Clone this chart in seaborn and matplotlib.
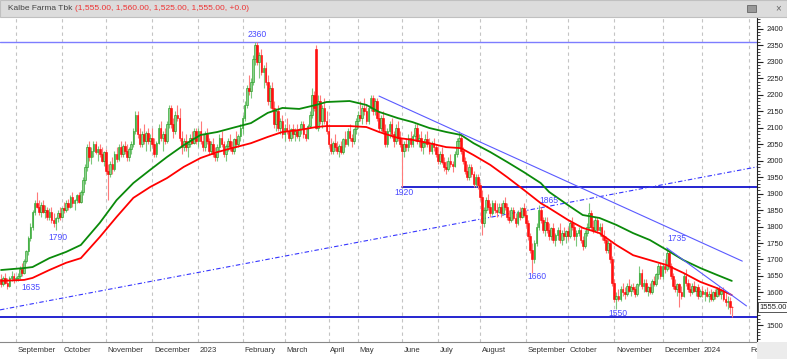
import numpy as np
import pandas as pd
import matplotlib
matplotlib.use("Agg")
import matplotlib.pyplot as plt
import matplotlib.transforms as mtransforms
from matplotlib.patches import Rectangle
from matplotlib.ticker import MultipleLocator
import seaborn as sns

# daily candles (open, high, low, close), one list per month
aug22 = [(1640,1655,1615,1625),(1625,1650,1620,1645),(1645,1660,1625,1630),(1630,1645,1610,1620),
         (1620,1650,1615,1645),(1645,1665,1635,1650),(1650,1660,1630,1640)]
sep22 = [(1640,1650,1635,1645),(1645,1660,1635,1650),(1650,1680,1640,1670),(1670,1690,1650,1660),
         (1660,1700,1655,1695),(1695,1730,1690,1725),(1725,1770,1715,1765),(1765,1810,1755,1800),
         (1800,1850,1790,1845),(1845,1880,1835,1870),(1870,1905,1855,1860),(1860,1880,1835,1845),
         (1845,1875,1830,1865),(1865,1880,1840,1845),(1845,1865,1825,1850),(1850,1860,1820,1830),
         (1830,1855,1820,1845),(1845,1860,1810,1820),(1820,1840,1800,1810),(1810,1830,1790,1825),
         (1825,1850,1815,1840),(1840,1860,1820,1830)]
oct22 = [(1830,1860,1825,1855),(1855,1875,1840,1850),(1850,1880,1845,1870),(1870,1885,1850,1860),
         (1860,1895,1855,1890),(1890,1905,1860,1870),(1870,1885,1850,1880),(1880,1900,1870,1895),
         (1895,1905,1870,1875),(1875,1910,1870,1905),(1905,1950,1895,1940),(1940,1990,1930,1980),
         (1980,2050,1970,2040),(2040,2060,2000,2010),(2010,2040,1990,2030),(2030,2060,2010,2050),
         (2050,2060,2020,2025),(2025,2045,2000,2035),(2035,2050,2010,2020),(2020,2040,1995,2000),
         (2000,2030,1985,2025)]
nov22 = [(2025,2035,1960,1970),(1970,1990,1880,1960),(1960,2000,1950,1990),(1990,2010,1960,1975),
         (1975,2030,1970,2020),(2020,2040,1995,2005),(2005,2050,2000,2040),(2040,2060,2010,2020),
         (2020,2050,2010,2045),(2045,2060,2020,2030),(2030,2050,2000,2010),(2010,2040,2000,2035),
         (2035,2060,2020,2050),(2050,2100,2040,2090),(2090,2150,2080,2140),(2140,2150,2070,2080),
         (2080,2100,2040,2050),(2050,2090,2040,2080),(2080,2110,2050,2060),(2060,2090,2030,2085),
         (2085,2100,2050,2060),(2060,2080,2030,2070)]
dec22 = [(2070,2100,2040,2050),(2050,2070,2010,2020),(2020,2060,2010,2055),(2055,2110,2050,2100),
         (2100,2120,2060,2070),(2070,2090,2030,2080),(2080,2100,2050,2060),(2060,2120,2055,2110),
         (2110,2170,2100,2160),(2160,2170,2100,2110),(2110,2130,2070,2090),(2090,2150,2080,2140),
         (2140,2170,2120,2130),(2130,2160,2060,2070),(2070,2090,2020,2040),(2040,2070,2030,2060),
         (2060,2080,2030,2040),(2040,2060,2010,2050),(2050,2080,2040,2070),(2070,2090,2050,2055),
         (2055,2100,2050,2090),(2090,2100,2050,2060)]
jan23 = [(2060,2100,2040,2090),(2090,2120,2050,2060),(2060,2080,2030,2040),(2040,2090,2030,2080),
         (2080,2100,2050,2060),(2060,2070,2020,2030),(2030,2060,2020,2050),(2050,2070,2010,2020),
         (2020,2040,2000,2010),(2010,2050,2000,2040),(2040,2080,2030,2070),(2070,2090,2040,2050),
         (2050,2060,2010,2020),(2020,2050,2000,2045),(2045,2070,2030,2060),(2060,2080,2030,2040),
         (2040,2060,2020,2030),(2030,2070,2020,2065),(2065,2090,2040,2050),(2050,2080,2040,2075),
         (2075,2110,2060,2100)]
feb23 = [(2100,2140,2080,2130),(2130,2180,2120,2170),(2170,2230,2160,2220),(2220,2260,2200,2210),
         (2210,2250,2190,2240),(2240,2320,2230,2310),(2310,2360,2290,2350),(2350,2360,2290,2300),
         (2300,2330,2250,2320),(2320,2340,2260,2270),(2270,2290,2220,2280),(2280,2300,2230,2240),
         (2240,2260,2170,2180),(2180,2230,2160,2220),(2220,2240,2150,2160),(2160,2180,2100,2110),
         (2110,2160,2090,2150),(2150,2170,2090,2100),(2100,2130,2080,2120),(2120,2140,2070,2080)]
mar23 = [(2080,2110,2060,2100),(2100,2130,2080,2090),(2090,2110,2060,2070),(2070,2100,2060,2095),
         (2095,2110,2070,2080),(2080,2100,2060,2090),(2090,2110,2070,2075),(2075,2100,2060,2095),
         (2095,2120,2080,2110),(2110,2120,2070,2080),(2080,2100,2060,2070),(2070,2110,2065,2105),
         (2105,2150,2100,2140),(2140,2220,2130,2200),(2200,2210,2150,2160),(2340,2350,2095,2100),
         (2100,2200,2090,2180),(2180,2200,2110,2120),(2120,2170,2100,2160),(2160,2190,2110,2120),
         (2120,2150,2080,2090)]
apr23 = [(2090,2110,2040,2050),(2050,2070,2020,2030),(2030,2060,2020,2055),(2055,2080,2030,2040),
         (2040,2060,2020,2030),(2030,2050,2010,2045),(2045,2060,2020,2025),(2025,2070,2020,2065),
         (2065,2090,2040,2050),(2050,2100,2045,2090),(2090,2110,2060,2070),(2070,2080,2040,2060),
         (2060,2100,2050,2095),(2095,2130,2080,2120)]
may23 = [(2120,2150,2100,2140),(2140,2180,2120,2130),(2130,2170,2110,2160),(2160,2190,2140,2150),
         (2150,2170,2110,2120),(2120,2170,2110,2160),(2160,2200,2150,2190),(2190,2200,2140,2150),
         (2150,2190,2140,2180),(2180,2190,2120,2130),(2130,2150,2090,2100),(2100,2140,2090,2130),
         (2130,2150,2080,2090),(2090,2110,2040,2050),(2050,2100,2040,2090),(2090,2120,2070,2110),
         (2110,2130,2070,2080),(2080,2090,2040,2060),(2060,2110,2050,2100),(2100,2120,2060,2070),
         (2070,2090,2040,2050)]
jun23 = [(2050,2070,1920,2030),(2030,2060,2010,2050),(2050,2070,2030,2040),(2040,2080,2030,2070),
         (2070,2090,2040,2050),(2050,2080,2040,2075),(2075,2110,2060,2100),(2100,2110,2050,2060),
         (2060,2080,2040,2070),(2070,2090,2030,2040),(2040,2060,2020,2055),(2055,2080,2040,2065),
         (2065,2090,2040,2050),(2050,2070,2020,2030),(2030,2060,2020,2055),(2055,2070,2030,2040),
         (2040,2050,2010,2020)]
jul23 = [(2020,2040,1990,2000),(2000,2030,1990,2020),(2020,2040,1990,1995),(1995,2010,1970,1980),
         (1980,2000,1960,1975),(1975,2010,1970,2000),(2000,2020,1980,1990),(1990,2000,1965,1985),
         (1985,2030,1980,2020),(2020,2070,2010,2060),(2060,2090,2040,2070),(2070,2080,2020,2030),
         (2030,2040,1990,2000),(2000,2010,1960,1970),(1970,1990,1940,1950),(1950,1990,1940,1980),
         (1980,1990,1950,1960),(1960,1970,1920,1930),(1930,1960,1920,1950),(1950,1960,1915,1925)]
aug23 = [(1925,1935,1880,1890),(1890,1910,1775,1810),(1810,1860,1800,1850),(1850,1890,1840,1880),
         (1880,1900,1850,1860),(1860,1870,1830,1840),(1840,1880,1835,1870),(1870,1880,1840,1850),
         (1850,1870,1830,1845),(1845,1870,1840,1860),(1860,1870,1830,1840),(1840,1880,1835,1870),
         (1870,1890,1850,1860),(1860,1870,1820,1830),(1830,1850,1810,1820),(1820,1860,1815,1850),
         (1850,1860,1820,1825),(1825,1840,1800,1810),(1810,1850,1805,1845),(1845,1860,1820,1830),
         (1830,1860,1825,1855),(1855,1870,1830,1835)]
sep23 = [(1835,1850,1800,1810),(1810,1820,1760,1770),(1770,1780,1720,1730),(1730,1750,1660,1700),
         (1700,1760,1690,1750),(1750,1810,1740,1800),(1800,1865,1790,1850),(1850,1860,1810,1820),
         (1820,1830,1780,1790),(1790,1830,1770,1815),(1815,1830,1780,1790),(1790,1810,1760,1770),
         (1770,1800,1760,1795),(1795,1810,1750,1760),(1760,1780,1740,1775),(1775,1800,1760,1790),
         (1790,1810,1750,1760),(1760,1790,1745,1780),(1780,1800,1760,1770),(1770,1790,1750,1785)]
oct23 = [(1785,1800,1760,1770),(1770,1820,1765,1810),(1810,1830,1790,1800),(1800,1810,1760,1770),
         (1770,1790,1740,1780),(1780,1800,1770,1790),(1790,1800,1750,1760),(1760,1770,1730,1740),
         (1740,1790,1735,1780),(1780,1810,1770,1800),(1800,1870,1790,1840),(1840,1850,1790,1800),
         (1800,1820,1780,1790),(1790,1830,1785,1820),(1820,1830,1780,1790),(1790,1810,1770,1800),
         (1800,1810,1760,1770),(1770,1790,1750,1760),(1760,1770,1720,1730),(1730,1760,1720,1750),
         (1750,1760,1690,1700),(1700,1710,1620,1630)]
nov23 = [(1630,1640,1570,1580),(1580,1600,1550,1590),(1590,1610,1575,1580),(1580,1620,1575,1610),
         (1610,1630,1590,1600),(1600,1615,1580,1595),(1595,1630,1590,1620),(1620,1640,1600,1605),
         (1605,1625,1590,1615),(1615,1630,1600,1610),(1610,1620,1585,1595),(1595,1630,1590,1625),
         (1625,1680,1620,1660),(1660,1670,1610,1620),(1620,1640,1600,1630),(1630,1640,1600,1605),
         (1605,1620,1590,1615),(1615,1630,1595,1600),(1600,1640,1595,1635),(1635,1650,1620,1625),
         (1625,1660,1620,1655),(1655,1690,1640,1680),(1680,1690,1640,1650)]
dec23 = [(1650,1690,1640,1680),(1680,1700,1660,1670),(1670,1735,1665,1720),(1720,1730,1670,1680),
         (1680,1690,1640,1650),(1650,1660,1610,1620),(1620,1640,1600,1610),(1610,1630,1590,1625),
         (1625,1630,1555,1600),(1600,1620,1580,1590),(1590,1660,1585,1650),(1650,1670,1620,1630),
         (1630,1640,1600,1610),(1610,1630,1590,1600),(1600,1630,1595,1620),(1620,1635,1600,1605),
         (1605,1620,1590,1615),(1615,1625,1580,1590),(1590,1610,1585,1605)]
jan24 = [(1605,1620,1585,1595),(1595,1610,1575,1600),(1600,1615,1585,1590),(1590,1605,1570,1595),
         (1595,1610,1575,1580),(1580,1605,1575,1600),(1600,1610,1580,1590),(1590,1615,1585,1610),
         (1610,1620,1590,1595),(1595,1610,1580,1605),(1605,1615,1575,1580),(1580,1600,1560,1570),
         (1570,1590,1550,1575),(1575,1585,1535,1555),(1555,1560,1525,1555)]

months = [aug22, sep22, oct22, nov22, dec22, jan23, feb23, mar23, apr23, may23, jun23,
          jul23, aug23, sep23, oct23, nov23, dec23, jan24]

month_names = ["September", "October", "November", "December", "2023", "February", "March",
               "April", "May", "June", "July", "August", "September", "October", "November",
               "December", "2024", "February"]
month_starts = [7, 29, 50, 72, 94, 115, 135, 156, 170, 191, 208, 228, 250, 270, 292, 315, 334, 356]

# moving averages (bar index, value)
ma_bars = [0, 11, 15, 23, 31, 38, 47, 55, 63, 71, 79, 87, 95, 103, 110, 119, 127, 134, 142, 150,
           155, 166, 174, 180, 189, 196, 204, 212, 219, 225, 233, 241, 249, 257, 261, 270, 277,
           285, 293, 301, 309, 317, 325, 333, 341, 348]
ma_green = [1668, 1674, 1677, 1704, 1723, 1744, 1811, 1880, 1932, 1972, 2011, 2047, 2078, 2087,
            2099, 2114, 2145, 2160, 2157, 2169, 2178, 2181, 2169, 2148, 2129, 2117, 2099, 2087,
            2078, 2053, 2026, 1996, 1965, 1932, 1905, 1865, 1835, 1826, 1805, 1780, 1759, 1729,
            1698, 1674, 1653, 1635]
ma_red = [1635, 1638, 1644, 1668, 1690, 1704, 1768, 1829, 1887, 1920, 1947, 1981, 2008, 2026,
          2038, 2053, 2072, 2087, 2093, 2102, 2105, 2105, 2102, 2087, 2069, 2063, 2053, 2041,
          2038, 2017, 1987, 1950, 1911, 1871, 1856, 1820, 1796, 1780, 1744, 1713, 1698, 1683,
          1659, 1632, 1613, 1592]

# drawn trend lines: (bar0, price0, bar1, price1)
support_up = (-0.5, 1547, 360, 1981)
resist_1 = (180, 2196, 353, 1695)
resist_2 = (317, 1735, 355, 1559)
level_high = 2360
level_mid = (191, 1920)
level_low = 1525

# price notes (text, bar, price)
notes = [("2360", 122, 2382), ("1635", 14, 1616), ("1790", 27, 1768), ("1920", 192, 1903),
         ("1865", 261, 1880), ("1660", 255, 1647), ("1735", 322, 1765), ("1550", 294, 1535)]

last_close = 1555
price_ticks = list(range(1500, 2401, 50))

rows = [c for m in months for c in m]
df = pd.DataFrame(rows, columns=["open", "high", "low", "close"])
df["bar"] = np.arange(len(df))
up = df["close"] > df["open"]

sns.set_style("white")
plt.rcParams["font.family"] = ["Liberation Sans", "DejaVu Sans"]

W, H = 787, 359
fig = plt.figure(figsize=(W / 100, H / 100), dpi=100)
ax = fig.add_axes([0, 17 / H, 757 / W, 324 / H])

# candles
wick_col = np.where(up, "#7cc77c", "#ff7a7a")
ax.vlines(df["bar"], df["low"], df["high"], colors=wick_col, lw=0.8, zorder=2)
body_lo = np.minimum(df["open"], df["close"])
body_h = np.maximum((df["close"] - df["open"]).abs(), 2)
ax.bar(df["bar"], body_h, bottom=body_lo, width=0.8,
       color=np.where(up, "#8fd18f", "#ff1010"),
       edgecolor=np.where(up, "#159a15", "#ff0000"), lw=0.4, zorder=3)

# moving averages
sns.lineplot(x=ma_bars, y=ma_green, color="#0a8a0a", lw=1.3, ax=ax, zorder=4)
sns.lineplot(x=ma_bars, y=ma_red, color="#ff0000", lw=1.3, ax=ax, zorder=4)

# levels and trend lines
ax.axhline(level_high, color="#7d7dff", lw=1.0, zorder=1)
ax.axhline(level_low, color="#0000c8", lw=1.2, zorder=1)
ax.plot([level_mid[0], 360], [level_mid[1], level_mid[1]], color="#0000c8", lw=1.2, zorder=1)
ax.plot(support_up[::2], support_up[1::2], color="#3535ff", lw=0.8,
        ls=(0, (4, 2, 1, 2)), zorder=1)
ax.plot(resist_1[::2], resist_1[1::2], color="#5a5aff", lw=0.8, zorder=5)
ax.plot(resist_2[::2], resist_2[1::2], color="#5a5aff", lw=0.8, zorder=5)

for txt, b, p in notes:
    ax.text(b, p, txt, color="#4a4aff", fontsize=6.2, ha="center", va="center", zorder=6)

ax.set_xlim(-0.5, 360)
ax.set_ylim(1449.5, 2433)

# right price axis (the 1550 label sits under the last-price box)
ax.yaxis.tick_right()
ax.set_yticks(price_ticks)
ax.set_yticklabels(["" if t == 1550 else str(t) for t in price_ticks])
ax.yaxis.set_minor_locator(MultipleLocator(10))
ax.tick_params(axis="y", which="major", length=4, width=0.8, labelsize=5.5, pad=3,
               colors="#222222", direction="out")
ax.tick_params(axis="y", which="minor", length=2, width=0.6, colors="#222222", direction="out")

# month axis
ax.set_xticks(month_starts)
ax.set_xticks([m + k for m in month_starts[:-1] for k in (5, 10, 15)], minor=True)
ax.tick_params(axis="x", which="major", length=14, width=0.8, colors="#666666",
               labelbottom=False, direction="out")
ax.tick_params(axis="x", which="minor", length=4, width=0.6, colors="#666666", direction="out")
ax.grid(axis="x", which="major", color="#c4c4c4", ls=(0, (3, 3)), lw=0.8)
trans = mtransforms.blended_transform_factory(ax.transData, ax.transAxes)
for name, pos in zip(month_names, month_starts):
    ax.text(pos + 0.8, -0.027, name, transform=trans, fontsize=5.6, color="#333333",
            ha="left", va="center", clip_on=False)

for s in ["left", "top"]:
    ax.spines[s].set_visible(False)
ax.spines["right"].set_color("#222222")
ax.spines["bottom"].set_color("#888888")
ax.spines["right"].set_linewidth(0.8)
ax.spines["bottom"].set_linewidth(0.8)

# last price box
ytrans = mtransforms.blended_transform_factory(ax.transAxes, ax.transData)
ax.text(1.003, last_close, f"{last_close:.2f}", transform=ytrans, fontsize=5.5, color="#222222",
        ha="left", va="center", clip_on=False, zorder=10,
        bbox=dict(boxstyle="square,pad=0.2", fc="white", ec="#555555", lw=0.7))

# header bar
fig.add_artist(Rectangle((0, 1 - 17 / H), 1, 17 / H, transform=fig.transFigure,
                         fc="#dcdcdc", ec="#c0c0c0", lw=0.8, zorder=5))
t1 = fig.text(8 / W, 1 - 8.5 / H, "Kalbe Farma Tbk", fontsize=6, color="#444444",
              va="center", ha="left", zorder=6)
t2 = fig.text(62 / W, 1 - 8.5 / H, "(1,555.00, 1,560.00, 1,525.00, 1,555.00, +0.0)",
              fontsize=6, color="#ee3333", va="center", ha="left", zorder=6)
fig.text(778 / W, 1 - 8.5 / H, "×", fontsize=7, color="#666666", va="center", ha="center", zorder=6)
fig.add_artist(Rectangle((747 / W, 1 - 12 / H), 9 / W, 7 / H, transform=fig.transFigure,
                         fc="#999999", ec="#555555", lw=0.5, zorder=6))

# bottom-right corner
fig.add_artist(Rectangle((757 / W, 0), 30 / W, 17 / H, transform=fig.transFigure,
                         fc="#ececec", ec="none", hatch="....", zorder=5))

fig.canvas.draw()
bb = t1.get_window_extent()
t2.set_x((bb.x1 + 3) / W)

fig.savefig("out.png", dpi=100)
